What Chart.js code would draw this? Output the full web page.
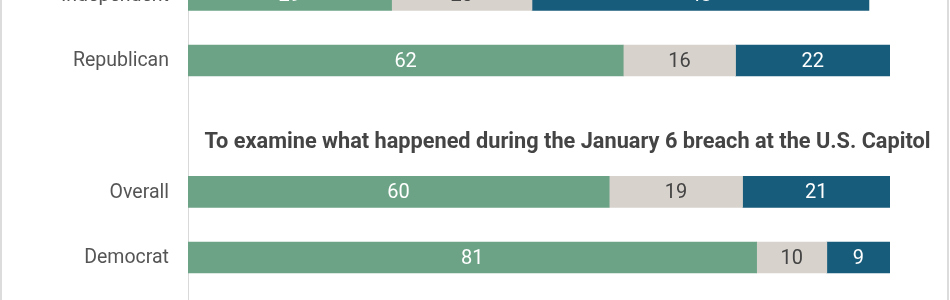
<!DOCTYPE html>
<html>
<head>
<meta charset="utf-8">
<script src="https://cdn.jsdelivr.net/npm/chart.js@4.4.1/dist/chart.umd.min.js"></script>
<style>
  html, body { margin: 0; padding: 0; background: #fff; width: 950px; height: 300px; overflow: hidden; }
  #frame { position: absolute; left: 0; top: 0; width: 949px; height: 300px; box-sizing: border-box;
           border-left: 2px solid #dcdcdc; border-right: 2px solid #dcdcdc; z-index: 2; pointer-events: none; }
  #c { position: absolute; left: 0; top: 0; }
</style>
</head>
<body>
<canvas id="c" width="950" height="300" style="width:950px;height:300px"></canvas>
<div id="frame"></div>
<script>
// Row order (index 2 is the slot holding the section heading)
const categories = ["Independent", "Republican", "", "Overall", "Democrat"];
const seriesNames = ["Green", "Gray", "Blue"];
const greenValues = [29, 62, null, 60, 81];
const grayValues  = [20, 16, null, 19, 10];
const blueValues  = [48, 22, null, 21, 9];
const sectionTitle = "To examine what happened during the January 6 breach at the U.S. Capitol";
const sectionTitleRow = 2;

const colors = ["#6ca386", "#d7d2cc", "#185c7b"];
const labelColors = ["#ffffff", "#444444", "#ffffff"];

// visible window: row 1 centred at 60.5px, 65.67px per row
const ROW_PX = 65.67, ROW1_Y = 60.5;

const toPoints = arr => arr.map((v, i) => v == null ? null : { x: v, y: i }).filter(p => p);

const valueLabels = {
  id: "valueLabels",
  afterDatasetsDraw(chart) {
    const ctx = chart.ctx;
    ctx.save();
    ctx.font = "20px Roboto";
    ctx.textAlign = "center";
    ctx.textBaseline = "middle";
    chart.data.datasets.forEach((ds, di) => {
      const meta = chart.getDatasetMeta(di);
      meta.data.forEach((bar, i) => {
        const v = ds.data[i].x;
        const p = bar.getProps(["x", "y", "base"], true);
        ctx.fillStyle = labelColors[di];
        ctx.fillText(String(v), (p.x + p.base) / 2, p.y + 1);
      });
    });
    ctx.restore();
  }
};

const categoryLabels = {
  id: "categoryLabels",
  afterDraw(chart) {
    const ctx = chart.ctx;
    const ys = chart.scales.y;
    ctx.save();
    ctx.font = "19.5px Roboto";
    ctx.fillStyle = "#555555";
    ctx.textAlign = "right";
    ctx.textBaseline = "middle";
    categories.forEach((c, i) => {
      if (!c) return;
      ctx.fillText(c, chart.chartArea.left - 19, ys.getPixelForValue(i) + 1);
    });
    ctx.restore();
  }
};

const sectionTitlePlugin = {
  id: "sectionTitle",
  afterDraw(chart) {
    const ctx = chart.ctx;
    const y = chart.scales.y.getPixelForValue(sectionTitleRow) + 16;
    const cx = (chart.chartArea.left + 947) / 2;
    ctx.save();
    ctx.font = "bold 22px Roboto";
    ctx.fillStyle = "#444444";
    ctx.textAlign = "center";
    ctx.textBaseline = "middle";
    const w = ctx.measureText(sectionTitle).width;
    const sx = 726 / w;
    ctx.translate(cx, y);
    ctx.scale(sx, 1);
    ctx.fillText(sectionTitle, 0, 0);
    ctx.restore();
  }
};

const chart = new Chart(document.getElementById("c"), {
  type: "bar",
  data: {
    datasets: [greenValues, grayValues, blueValues].map((d, i) => ({
      label: seriesNames[i],
      data: toPoints(d),
      backgroundColor: colors[i],
      borderWidth: 0,
      barThickness: 31
    }))
  },
  options: {
    indexAxis: "y",
    responsive: false,
    animation: false,
    layout: { padding: { left: 0, right: 60, top: 0, bottom: 0 }, autoPadding: false },
    plugins: { legend: { display: false }, tooltip: { enabled: false } },
    scales: {
      x: { type: "linear", stacked: true, min: 0, max: 100, display: false },
      y: {
        type: "linear",
        stacked: true,
        reverse: true,
        offset: false,
        min: 0.079,
        max: 4.647,
        grid: { display: false, drawTicks: false },
        border: { display: true, color: "#d9d9d9", width: 1 },
        ticks: { display: false },
        afterFit(scale) {
          scale.width = 188;
          scale.paddingTop = 0;
          scale.paddingBottom = 0;
        }
      }
    }
  },
  plugins: [valueLabels, categoryLabels, sectionTitlePlugin]
});

// fit the visible row window to the actual plot area
const area = chart.chartArea;
chart.options.scales.y.min = 1 - (ROW1_Y - area.top) / ROW_PX;
chart.options.scales.y.max = 1 + (area.bottom - ROW1_Y) / ROW_PX;
chart.update("none");
</script>
</body>
</html>
